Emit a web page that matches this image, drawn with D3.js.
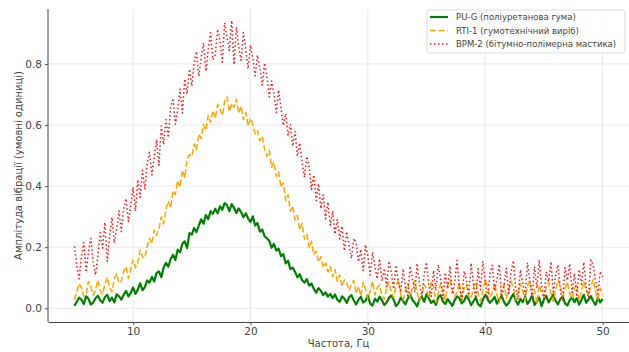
<!DOCTYPE html>
<html>
<head>
<meta charset="utf-8">
<script src="https://cdn.jsdelivr.net/npm/d3@7"></script>
<style>
  body { margin: 0; background: #fff; }
  svg { display: block; font-family: "DejaVu Sans", sans-serif; }
</style>
</head>
<body>
<div id="chart"></div>
<script>
// frequency grid: 5 .. 50 Hz, step 0.2
const freqStart = 5;
const freqStep = 0.2;

const xTicks = [10, 20, 30, 40, 50];
const yTicks = [0.0, 0.2, 0.4, 0.6, 0.8];

const seriesNames = [
  "PU-G (поліуретанова гума)",
  "RTI-1 (гумотехнічний виріб)",
  "BPM-2 (бітумно-полімерна мастика)"
];

const puG = [
  0.008, 0.021, 0.035, 0.028, 0.014, 0.039, 0.031, 0.012, 0.019, 0.033,
  0.041, 0.026, 0.018, 0.037, 0.044, 0.023, 0.035, 0.019, 0.046, 0.039,
  0.028, 0.044, 0.057, 0.039, 0.050, 0.068, 0.047, 0.061, 0.082, 0.059,
  0.069, 0.091, 0.084, 0.103, 0.088, 0.116, 0.121, 0.102, 0.133, 0.149,
  0.136, 0.161, 0.175, 0.158, 0.192, 0.183, 0.211, 0.219, 0.197, 0.246,
  0.241, 0.263, 0.249, 0.271, 0.291, 0.277, 0.305, 0.292, 0.318, 0.309,
  0.326, 0.311, 0.334, 0.322, 0.344, 0.338, 0.318, 0.341, 0.329, 0.312,
  0.327, 0.315, 0.298, 0.311, 0.294, 0.282, 0.301, 0.271, 0.279, 0.251,
  0.258, 0.236, 0.229, 0.221, 0.198, 0.211, 0.189, 0.195, 0.171, 0.177,
  0.147, 0.156, 0.128, 0.133, 0.119, 0.101, 0.112, 0.092, 0.084, 0.095,
  0.074, 0.081, 0.063, 0.051, 0.066, 0.057, 0.043, 0.052, 0.038, 0.047,
  0.033, 0.045, 0.028, 0.021, 0.039, 0.031, 0.017, 0.036, 0.043, 0.026,
  0.012, 0.028, 0.037, 0.019, 0.024, 0.041, 0.015, 0.009, 0.031, 0.022,
  0.038, 0.026, 0.011, 0.019, 0.034, 0.042, 0.028, 0.007, 0.016, 0.035,
  0.024, 0.013, 0.031, 0.045, 0.027, 0.018, 0.006, 0.029, 0.038, 0.021,
  0.046, 0.032, 0.017, 0.025, 0.011, 0.036, 0.043, 0.022, 0.014, 0.030,
  0.019, 0.008, 0.027, 0.039, 0.033, 0.016, 0.024, 0.041, 0.029, 0.010,
  0.023, 0.035, 0.013, 0.006, 0.028, 0.044, 0.031, 0.018, 0.026, 0.037,
  0.015, 0.029, 0.040, 0.021, 0.009, 0.017, 0.034, 0.046, 0.025, 0.012,
  0.031, 0.020, 0.037, 0.014, 0.026, 0.043, 0.011, 0.022, 0.035, 0.007,
  0.028, 0.041, 0.019, 0.032, 0.045, 0.024, 0.013, 0.030, 0.038, 0.016,
  0.009, 0.026, 0.036, 0.020, 0.033, 0.012, 0.027, 0.044, 0.018, 0.029,
  0.040, 0.023, 0.011, 0.035, 0.019, 0.031
];

const rti1 = [
  0.028, 0.052, 0.081, 0.066, 0.039, 0.047, 0.088, 0.071, 0.043, 0.061,
  0.092, 0.058, 0.046, 0.079, 0.101, 0.068, 0.054, 0.097, 0.113, 0.082,
  0.089, 0.121, 0.136, 0.098, 0.127, 0.158, 0.133, 0.149, 0.191, 0.168,
  0.164, 0.203, 0.229, 0.211, 0.256, 0.238, 0.262, 0.299, 0.276, 0.324,
  0.351, 0.329, 0.384, 0.372, 0.418, 0.396, 0.452, 0.427, 0.486, 0.503,
  0.497, 0.538, 0.519, 0.571, 0.556, 0.602, 0.583, 0.631, 0.609, 0.648,
  0.622, 0.667, 0.653, 0.631, 0.679, 0.692, 0.644, 0.671, 0.658, 0.684,
  0.639, 0.662, 0.618, 0.641, 0.597, 0.622, 0.603, 0.571, 0.582, 0.548,
  0.563, 0.521, 0.498, 0.517, 0.462, 0.479, 0.431, 0.447, 0.396, 0.411,
  0.352, 0.371, 0.318, 0.335, 0.289, 0.304, 0.257, 0.278, 0.226, 0.241,
  0.198, 0.219, 0.176, 0.187, 0.151, 0.169, 0.134, 0.148, 0.119, 0.137,
  0.103, 0.127, 0.088, 0.109, 0.071, 0.093, 0.084, 0.058, 0.079, 0.091,
  0.048, 0.072, 0.039, 0.085, 0.063, 0.031, 0.057, 0.089, 0.044, 0.068,
  0.076, 0.041, 0.029, 0.064, 0.087, 0.052, 0.035, 0.071, 0.093, 0.047,
  0.026, 0.059, 0.081, 0.038, 0.067, 0.091, 0.054, 0.022, 0.045, 0.078,
  0.063, 0.034, 0.088, 0.071, 0.019, 0.049, 0.082, 0.056, 0.027, 0.074,
  0.092, 0.061, 0.037, 0.053, 0.085, 0.024, 0.066, 0.078, 0.041, 0.031,
  0.069, 0.087, 0.046, 0.023, 0.058, 0.094, 0.072, 0.036, 0.051, 0.083,
  0.044, 0.018, 0.062, 0.079, 0.033, 0.057, 0.089, 0.065, 0.028, 0.048,
  0.081, 0.055, 0.026, 0.073, 0.091, 0.043, 0.061, 0.017, 0.076, 0.052,
  0.035, 0.068, 0.084, 0.047, 0.022, 0.059, 0.093, 0.074, 0.038, 0.063,
  0.086, 0.049, 0.031, 0.067, 0.079, 0.025, 0.055, 0.088, 0.061, 0.042,
  0.071, 0.094, 0.053, 0.029, 0.066, 0.045
];

const bpm2 = [
  0.203, 0.142, 0.097, 0.168, 0.215, 0.118, 0.186, 0.229, 0.151, 0.109,
  0.172, 0.248, 0.197, 0.281, 0.153, 0.236, 0.298, 0.214, 0.262, 0.319,
  0.251, 0.327, 0.359, 0.284, 0.337, 0.396, 0.318, 0.421, 0.363, 0.452,
  0.389, 0.476, 0.511, 0.437, 0.493, 0.552, 0.468, 0.597, 0.536, 0.618,
  0.559, 0.657, 0.688, 0.603, 0.649, 0.718, 0.639, 0.751, 0.702, 0.783,
  0.728, 0.804, 0.841, 0.759, 0.822, 0.869, 0.776, 0.848, 0.902, 0.814,
  0.829, 0.914, 0.873, 0.806, 0.935, 0.887, 0.844, 0.942, 0.798, 0.921,
  0.856, 0.812, 0.903, 0.848, 0.784, 0.862, 0.819, 0.761, 0.829, 0.786,
  0.731, 0.803, 0.759, 0.692, 0.744, 0.702, 0.641, 0.715, 0.656, 0.598,
  0.638, 0.567, 0.602, 0.531, 0.579, 0.498, 0.541, 0.476, 0.429, 0.497,
  0.462, 0.389, 0.437, 0.352, 0.408, 0.326, 0.371, 0.293, 0.348, 0.272,
  0.318, 0.243, 0.291, 0.227, 0.269, 0.188, 0.251, 0.206, 0.163, 0.229,
  0.216, 0.152, 0.193, 0.124, 0.208, 0.171, 0.109, 0.184, 0.137, 0.096,
  0.162, 0.089, 0.131, 0.071, 0.154, 0.118, 0.063, 0.141, 0.085, 0.052,
  0.129, 0.067, 0.041, 0.138, 0.096, 0.053, 0.147, 0.081, 0.038, 0.112,
  0.151, 0.072, 0.039, 0.124, 0.058, 0.143, 0.096, 0.031, 0.117, 0.064,
  0.139, 0.046, 0.085, 0.157, 0.069, 0.027, 0.122, 0.094, 0.042, 0.148,
  0.077, 0.033, 0.129, 0.061, 0.154, 0.088, 0.025, 0.113, 0.141, 0.056,
  0.098, 0.144, 0.037, 0.072, 0.131, 0.049, 0.118, 0.156, 0.063, 0.029,
  0.126, 0.081, 0.043, 0.149, 0.092, 0.035, 0.137, 0.066, 0.158, 0.074,
  0.031, 0.119, 0.087, 0.153, 0.048, 0.106, 0.142, 0.059, 0.024, 0.133,
  0.091, 0.146, 0.052, 0.115, 0.038, 0.127, 0.079, 0.151, 0.068, 0.034,
  0.158, 0.142, 0.091, 0.047, 0.121, 0.103
];

const width = 629, height = 352;
const margin = { top: 9, right: 0, bottom: 30, left: 48 };

const svg = d3.select("#chart").append("svg")
  .attr("width", width)
  .attr("height", height);

const x = d3.scaleLinear()
  .domain([2.75, 52.25])
  .range([margin.left, width - margin.right]);

const y = d3.scaleLinear()
  .domain([-0.045, 0.98])
  .range([height - margin.bottom, margin.top]);

// grid
svg.append("g")
  .selectAll("line")
  .data(xTicks)
  .enter().append("line")
  .attr("x1", d => x(d)).attr("x2", d => x(d))
  .attr("y1", margin.top).attr("y2", height - margin.bottom)
  .attr("stroke", "#e3e3e3").attr("stroke-width", 0.8);

svg.append("g")
  .selectAll("line")
  .data(yTicks)
  .enter().append("line")
  .attr("x1", margin.left).attr("x2", width - margin.right)
  .attr("y1", d => y(d)).attr("y2", d => y(d))
  .attr("stroke", "#e3e3e3").attr("stroke-width", 0.8);

// series
const series = [
  { name: seriesNames[0], values: puG, color: "#008000", width: 2.2, dash: null },
  { name: seriesNames[1], values: rti1, color: "#ffa500", width: 1.5, dash: "6,2.6" },
  { name: seriesNames[2], values: bpm2, color: "#f01818", width: 1.5, dash: "1.5,2.5" }
];

const line = d3.line()
  .x((d, i) => x(freqStart + i * freqStep))
  .y(d => y(d));

svg.append("g")
  .selectAll("path")
  .data(series)
  .enter().append("path")
  .attr("d", d => line(d.values))
  .attr("fill", "none")
  .attr("stroke", d => d.color)
  .attr("stroke-width", d => d.width)
  .attr("stroke-dasharray", d => d.dash)
  .attr("stroke-linejoin", "round");

// axes
const xAxis = svg.append("g")
  .attr("transform", `translate(0,${height - margin.bottom})`)
  .call(d3.axisBottom(x).tickValues(xTicks).tickFormat(d3.format("d")).tickSize(3).tickSizeOuter(0).tickPadding(3));

const yAxis = svg.append("g")
  .attr("transform", `translate(${margin.left},0)`)
  .call(d3.axisLeft(y).tickValues(yTicks).tickFormat(d3.format(".1f")).tickSize(3).tickSizeOuter(0).tickPadding(3));

[xAxis, yAxis].forEach(a => {
  a.select(".domain").attr("stroke", "#444").attr("stroke-width", 1);
  a.selectAll(".tick line").attr("stroke", "#555");
  a.selectAll(".tick text")
    .attr("fill", "#444")
    .style("font-size", "10.5px")
    .style("font-family", "DejaVu Sans, sans-serif");
});
yAxis.select(".domain").attr("d", `M0,${margin.top}V${height - margin.bottom}`);

svg.append("text")
  .attr("x", (margin.left + width) / 2)
  .attr("y", 347)
  .attr("text-anchor", "middle")
  .attr("fill", "#444")
  .style("font-size", "10px")
  .text("Частота, Гц");

svg.append("text")
  .attr("transform", `translate(22,${(margin.top + height - margin.bottom) / 2}) rotate(-90)`)
  .attr("text-anchor", "middle")
  .attr("fill", "#444")
  .style("font-size", "10px")
  .text("Амплітуда вібрації (умовні одиниці)");

// legend
const legend = svg.append("g").attr("transform", "translate(427,10)");
legend.append("rect")
  .attr("width", 198).attr("height", 43)
  .attr("rx", 2)
  .attr("fill", "#fff").attr("fill-opacity", 0.85)
  .attr("stroke", "#dcdcdc");

const rows = legend.selectAll("g.row")
  .data(series)
  .enter().append("g")
  .attr("class", "row")
  .attr("transform", (d, i) => `translate(0,${7 + i * 13.5})`);

rows.append("line")
  .attr("x1", 3).attr("x2", 21)
  .attr("stroke", d => d.color)
  .attr("stroke-width", d => d.width)
  .attr("stroke-dasharray", d => d.dash);

rows.append("text")
  .attr("x", 29).attr("y", 3)
  .attr("fill", "#444")
  .style("font-size", "8.5px")
  .text(d => d.name);
</script>
</body>
</html>
